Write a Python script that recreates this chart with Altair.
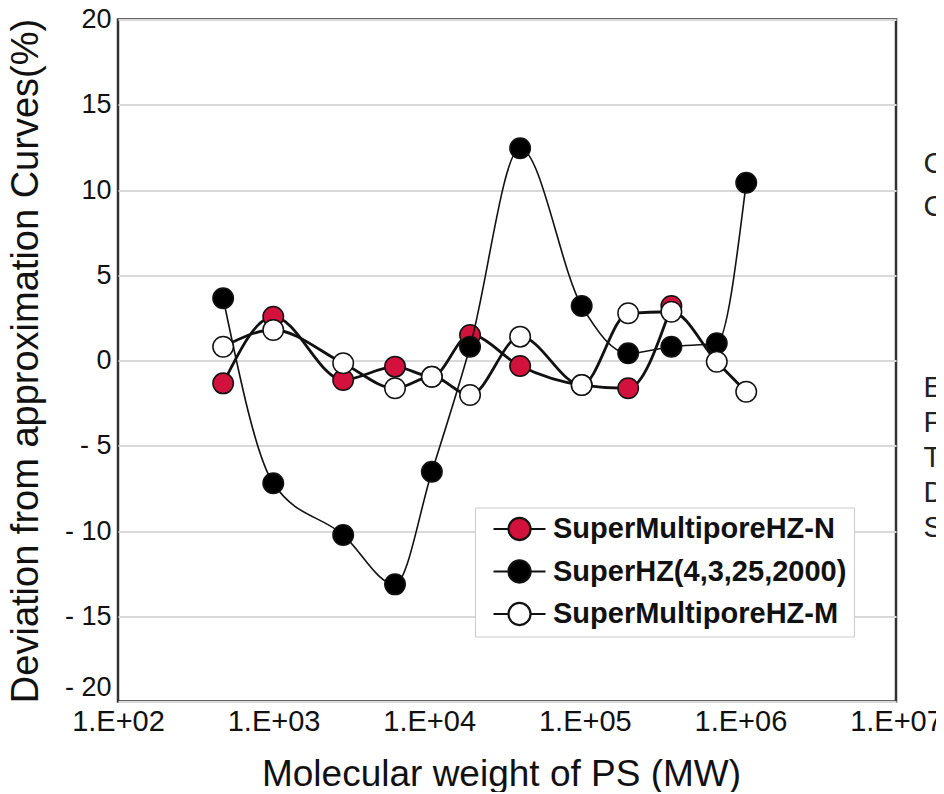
import altair as alt
import pandas as pd

# Molecular weights of PS standards (x positions)
mw = [474, 995, 2800, 6030, 10400, 18300, 38400, 95500, 190000, 360000, 705000, 1090000]

series_names = ["SuperMultiporeHZ-N", "SuperHZ(4,3,25,2000)", "SuperMultiporeHZ-M"]

# Deviation (%) per series
n_vals = [-1.34, 2.57, -1.14, -0.36, -0.95, 1.50, -0.32, -1.44, -1.63, 3.2]
hz_vals = [3.65, -7.20, -10.23, -13.13, -6.52, 0.81, 12.45, 3.20, 0.42, 0.81, 1.01, 10.43]
m_vals = [0.81, 1.79, -0.16, -1.63, -0.95, -2.02, 1.40, -1.44, 2.77, 2.86, -0.07, -1.83]

# Cut-off text fragments visible at the right edge of the picture
edge_letters = ["C", "C", "E", "F", "T", "D", "S"]
edge_letter_y = [11.5, 9.0, -1.6, -3.65, -5.7, -7.75, -9.85]
edge_letter_x = 15000000

fills = ["#d2123c", "#000000", "#ffffff"]
line_widths = [2.8, 1.6, 2.8]

x_ticks = [100, 1000, 10000, 100000, 1000000, 10000000]
y_ticks = [-20, -15, -10, -5, 0, 5, 10, 15, 20]

rows = []
for name, vals in zip(series_names, [n_vals, hz_vals, m_vals]):
    for x, y in zip(mw, vals):
        rows.append({"series": name, "mw": x, "dev": y})
df = pd.DataFrame(rows)

edge_df = pd.DataFrame({
    "mw": [edge_letter_x] * len(edge_letters),
    "dev": edge_letter_y,
    "letter": edge_letters,
})

FONT = "Liberation Sans"

x_enc = alt.X(
    "mw:Q",
    scale=alt.Scale(type="log", domain=[100, 10000000]),
    axis=alt.Axis(
        values=x_ticks,
        labelExpr="'1.E+0' + round(log(datum.value) / LN10)",
        title="Molecular weight of PS (MW)",
        grid=False, ticks=False, domain=False,
        labelFont=FONT, labelFontSize=29, labelColor="#111", labelPadding=6,
        labelFlush=False, labelOverlap=False,
        titleFont=FONT, titleFontSize=37, titleFontWeight="normal", titleColor="#111",
        titleX=383, titleY=84, titleBaseline="alphabetic", titleAlign="center",
    ),
)
y_enc = alt.Y(
    "dev:Q",
    scale=alt.Scale(domain=[-20, 20]),
    axis=alt.Axis(
        values=y_ticks,
        labelExpr="datum.value < 0 ? '- ' + abs(datum.value) : '' + datum.value",
        labelBaseline={"condition": {"test": "datum.value === -20", "value": "bottom"}, "value": "middle"},
        title="Deviation from approximation Curves(%)",
        grid=True, gridColor="#d9d9d9", gridWidth=2,
        ticks=False, domain=False,
        labelFont=FONT, labelFontSize=27, labelColor="#111", labelPadding=7,
        titleFont=FONT, titleFontSize=38, titleFontWeight="normal", titleColor="#111",
        titleX=-73, titleY=341, titleBaseline="bottom", titleAlign="center", titleAngle=-90,
    ),
)

symbol_path = "M-2,0H-0.85M0.85,0H2M-0.85,0A0.85,0.85,0,1,1,0.85,0A0.85,0.85,0,1,1,-0.85,0Z"

legend = alt.Legend(
    title=None, orient="none", legendX=357, legendY=488,
    symbolType=symbol_path, symbolSize=676,
    symbolStrokeColor="#111", symbolStrokeWidth=2.2, symbolOffset=23,
    labelFont=FONT, labelFontSize=29, labelFontWeight="bold", labelColor="#111",
    labelOffset=19, labelLimit=500,
    padding=7, rowPadding=11.5,
    strokeColor="#cccccc", fillColor="white",
)

base = alt.Chart(df).encode(x=x_enc, y=y_enc)

layers = []
for i, name in enumerate(series_names):
    sub = base.transform_filter(alt.datum.series == name)
    layers.append(
        sub.mark_line(interpolate="monotone", color="#111", strokeWidth=line_widths[i])
    )
    layers.append(
        sub.mark_circle(size=420, stroke="#111", strokeWidth=1.5, opacity=1).encode(
            fill=alt.Fill("series:N", scale=alt.Scale(domain=series_names, range=fills), legend=legend)
        )
    )

edge_text = alt.Chart(edge_df).mark_text(
    align="left", baseline="middle", font=FONT, fontSize=29, color="#222"
).encode(x=x_enc, y=y_enc, text="letter:N")
layers.append(edge_text)

chart = alt.layer(*layers).properties(
    width=778, height=682,
    padding={"left": 110, "top": 11.5, "right": 40, "bottom": 90},
    autosize=alt.AutoSizeParams(type="none"),
    background="white",
).configure_view(stroke="#333", strokeWidth=2.5)

chart.save("out.html", embed_options={"renderer": "svg", "actions": False})
